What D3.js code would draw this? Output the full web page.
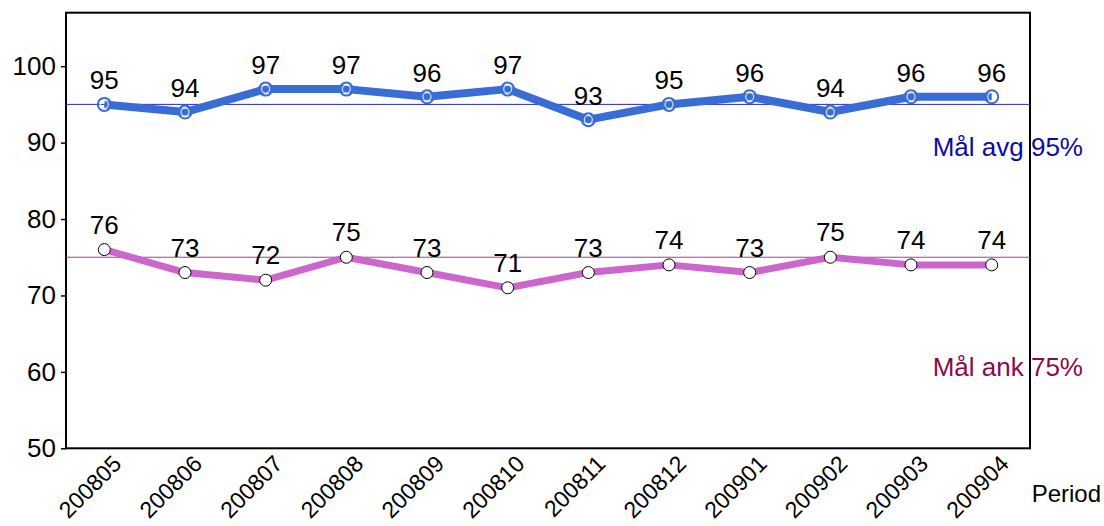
<!DOCTYPE html>
<html>
<head>
<meta charset="utf-8">
<script src="https://cdn.jsdelivr.net/npm/d3@7"></script>
<style>
  body { margin: 0; background: #fff; }
  text { font-family: Arial, "Liberation Sans", sans-serif; }
</style>
</head>
<body>
<div id="chart"></div>
<script>
const periods = ["200805","200806","200807","200808","200809","200810","200811","200812","200901","200902","200903","200904"]
const avgValues = [95, 94, 97, 97, 96, 97, 93, 95, 96, 94, 96, 96]
const ankValues = [76, 73, 72, 75, 73, 71, 73, 74, 73, 75, 74, 74]
const yTicks = [50, 60, 70, 80, 90, 100]
const targets = [
  {value: 95, label: "Mål avg 95%", line: "#2a2ad0", text: "#0a0aa8", dy: 52},
  {value: 75, label: "Mål ank 75%", line: "#a0409a", text: "#8a0a4c", dy: 119}
]

const W = 1104, H = 526
const margin = {top: 12.7, right: 74, bottom: 77.7, left: 66}
const width = W - margin.left - margin.right
const height = H - margin.top - margin.bottom
const FS = 26

const svg = d3.select("#chart").append("svg")
    .attr("width", W)
    .attr("height", H)

const g = svg.append("g")
    .attr("transform", `translate(${margin.left},${margin.top})`)

// escalas
const x = d3.scalePoint()
    .domain(periods)
    .range([0, width])
    .padding(0.475)

const y = d3.scaleLinear()
    .domain([50, 107])
    .range([height, 0])

// eje y
const yAxis = g.append("g")
    .call(d3.axisLeft(y).tickValues(yTicks).tickSize(5).tickSizeOuter(0).tickPadding(5))
yAxis.select(".domain").remove()
yAxis.selectAll("line").attr("stroke", "#000").attr("stroke-width", 1.5)
yAxis.selectAll("text").attr("font-size", FS).attr("fill", "#000")
    .attr("font-family", "Arial, 'Liberation Sans', sans-serif")

// eje x
const xAxis = g.append("g")
    .attr("transform", `translate(0,${height})`)
    .call(d3.axisBottom(x).tickSize(0).tickSizeOuter(0))
xAxis.select(".domain").remove()
xAxis.selectAll("text")
    .attr("font-size", 23)
    .attr("fill", "#000")
    .attr("font-family", "Arial, 'Liberation Sans', sans-serif")
    .attr("text-anchor", "end")
    .attr("y", 0)
    .attr("dy", 0)
    .attr("transform", "translate(18,17) rotate(-45)")

// marco
g.append("rect")
    .attr("width", width)
    .attr("height", height)
    .attr("fill", "none")
    .attr("stroke", "#000")
    .attr("stroke-width", 2)

// lineas objetivo
targets.forEach(t => {
  g.append("line")
      .attr("x1", 0).attr("x2", width)
      .attr("y1", y(t.value)).attr("y2", y(t.value))
      .attr("stroke", t.line)
      .attr("stroke-width", 1)
})

const line = d3.line().x((d, i) => x(periods[i])).y(d => y(d))

// serie avg
g.append("path")
    .datum(avgValues)
    .attr("d", line)
    .attr("fill", "none")
    .attr("stroke", "#3a6cd6")
    .attr("stroke-width", 8)
    .attr("stroke-linejoin", "round")

g.selectAll("circle.avg")
    .data(avgValues)
    .enter()
    .append("circle")
    .attr("class", "avg")
    .attr("cx", (d, i) => x(periods[i]))
    .attr("cy", d => y(d))
    .attr("r", 6.5)
    .attr("fill", "none")
    .attr("stroke", "#3a6cd6")
    .attr("stroke-width", 2)

g.selectAll("circle.avgin")
    .data(avgValues)
    .enter()
    .append("circle")
    .attr("class", "avgin")
    .attr("cx", (d, i) => x(periods[i]))
    .attr("cy", d => y(d))
    .attr("r", 4)
    .attr("fill", "none")
    .attr("stroke", "#fff")
    .attr("stroke-width", 1.2)
    .attr("opacity", 0.8)

// serie ank
g.append("path")
    .datum(ankValues)
    .attr("d", line)
    .attr("fill", "none")
    .attr("stroke", "#cc66cc")
    .attr("stroke-width", 7)
    .attr("stroke-linejoin", "round")

g.selectAll("circle.ank")
    .data(ankValues)
    .enter()
    .append("circle")
    .attr("class", "ank")
    .attr("cx", (d, i) => x(periods[i]))
    .attr("cy", d => y(d))
    .attr("r", 6)
    .attr("fill", "#fff")
    .attr("stroke", "#000")
    .attr("stroke-width", 1)

// etiquetas de valores
const labels = [
  {vals: avgValues, off: 15},
  {vals: ankValues, off: 16}
]
labels.forEach(s => {
  g.selectAll(null)
      .data(s.vals)
      .enter()
      .append("text")
      .attr("x", (d, i) => x(periods[i]))
      .attr("y", d => y(d) - s.off)
      .attr("text-anchor", "middle")
      .attr("font-size", FS)
      .attr("fill", "#000")
      .text(d => d)
})

// textos objetivo
targets.forEach(t => {
  svg.append("text")
      .attr("x", 1083)
      .attr("y", margin.top + y(t.value) + t.dy)
      .attr("text-anchor", "end")
      .attr("font-size", FS)
      .attr("fill", t.text)
      .text(t.label)
})

svg.append("text")
    .attr("x", 1101)
    .attr("y", 502)
    .attr("text-anchor", "end")
    .attr("font-size", 24)
    .attr("fill", "#000")
    .text("Period")
</script>
</body>
</html>
